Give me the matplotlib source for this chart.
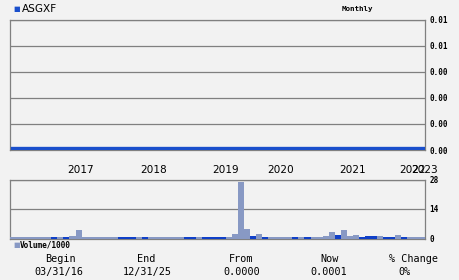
import numpy as np
import matplotlib.pyplot as plt
from matplotlib.ticker import FormatStrFormatter

# chart data ---------------------------------------------------------------
symbol = 'ASGXF'
period = 'Monthly'
# monthly close (one per bar slot)
prices = [0.0001, 0.0001, 0.0001, 0.0001, 0.0001, 0.0001, 0.0001, 0.0001, 0.0001, 0.0001,
          0.0001, 0.0001, 0.0001, 0.0001, 0.0001, 0.0001, 0.0001, 0.0001, 0.0001, 0.0001,
          0.0001, 0.0001, 0.0001, 0.0001, 0.0001, 0.0001, 0.0001, 0.0001, 0.0001, 0.0001,
          0.0001, 0.0001, 0.0001, 0.0001, 0.0001, 0.0001, 0.0001, 0.0001, 0.0001, 0.0001,
          0.0001, 0.0001, 0.0001, 0.0001, 0.0001, 0.0001, 0.0001, 0.0001, 0.0001, 0.0001,
          0.0001, 0.0001, 0.0001, 0.0001, 0.0001, 0.0001, 0.0001, 0.0001, 0.0001, 0.0001,
          0.0001, 0.0001, 0.0001, 0.0001, 0.0001, 0.0001, 0.0001, 0.0001, 0.0001]
# volume / 1000
volume = [0.6, 0.6, 0.6, 0.5, 0.5, 0.6, 0.6, 0.6, 0.6, 0.6,
          1.1, 4.0, 0.6, 0.6, 0.6, 0.6, 0.6, 0.6, 0.6, 0.6,
          0.6, 0.6, 0.6, 0.6, 0.6, 0.6, 0.6, 0.6, 0.6, 0.6,
          0.6, 0.6, 0.6, 0.6, 0.6, 0.6, 0.7, 2.0, 27.0, 4.4,
          1.0, 2.0, 0.6, 0.6, 0.5, 0.6, 0.5, 0.6, 0.6, 0.6,
          0.6, 0.6, 1.0, 3.2, 1.6, 4.1, 1.3, 1.6, 0.6, 1.0,
          1.0, 1.0, 0.6, 0.6, 1.6, 0.6, 0.5, 0.5, 0.5]
# 1 = down month (dark bar), 0 = up month (light bar)
down = [0, 0, 0, 0, 0, 0, 0, 1, 0, 1,
        0, 0, 0, 0, 0, 0, 0, 0, 1, 1,
        1, 0, 1, 0, 0, 0, 0, 0, 0, 1,
        1, 0, 1, 1, 1, 1, 0, 0, 0, 0,
        1, 0, 1, 0, 0, 0, 0, 1, 0, 1,
        0, 0, 0, 0, 1, 0, 0, 0, 1, 1,
        1, 0, 1, 1, 0, 1, 0, 0, 0]
year_labels = ['2017', '2018', '2019', '2020', '2021', '2022', '2023']
year_pos = [11.9, 23.9, 35.9, 45.0, 57.0, 67.0, 69.0]
price_ticks = [0.0, 0.0015, 0.003, 0.0045, 0.006, 0.0075]
vol_ticks = [0, 14, 28]
footer_heads = ['Begin', 'End', 'From', 'Now', '% Change']
footer_vals = ['03/31/16', '12/31/25', '0.0000', '0.0001', '0%']

bg = '#f2f2f2'
frame = '#808080'
line_blue = '#1a4fcc'
bar_light = '#8899c4'
bar_dark = '#1040c8'

W, H = 460, 280
fig = plt.figure(figsize=(W/100, H/100), dpi=100)
fig.patch.set_facecolor(bg)

x = np.arange(len(prices)) + 0.5
xmin, xmax = 0.13, 68.3

# price panel --------------------------------------------------------------
ax = fig.add_axes([10/W, 1-150/H, 415/W, 130.5/H])
ax.set_facecolor(bg)
ax.plot(x, prices, color=line_blue, lw=2.4, solid_capstyle='projecting', zorder=3)
ax.set_xlim(xmin, xmax)
ax.set_ylim(0, 0.0075)
ax.set_yticks(price_ticks)
ax.yaxis.set_major_formatter(FormatStrFormatter('%.2f'))
ax.yaxis.tick_right()
ax.tick_params(axis='y', length=0, pad=3, labelsize=5.5)
for lab in ax.get_yticklabels():
    lab.set_family('DejaVu Sans Mono')
    lab.set_fontweight('bold')
ax.set_xticks([])
ax.grid(axis='y', color=frame, lw=0.9)
for s in ax.spines.values():
    s.set_color(frame)
    s.set_linewidth(0.9)

# volume panel -------------------------------------------------------------
vax = fig.add_axes([10/W, 1-238.5/H, 415/W, 59/H])
vax.set_facecolor(bg)
cols = [bar_dark if d else bar_light for d in down]
vax.bar(x, volume, width=1.0, color=cols, zorder=3)
vax.set_xlim(xmin, xmax)
vax.set_ylim(0, 28)
vax.set_yticks(vol_ticks)
vax.yaxis.tick_right()
vax.tick_params(axis='y', length=0, pad=3, labelsize=5.5)
for lab in vax.get_yticklabels():
    lab.set_family('DejaVu Sans Mono')
    lab.set_fontweight('bold')
vax.xaxis.tick_top()
vax.set_xticks(year_pos)
vax.set_xticklabels(year_labels, fontsize=7.6)
vax.tick_params(axis='x', length=0, pad=3)
vax.grid(axis='y', color=frame, lw=0.9)
for s in vax.spines.values():
    s.set_color(frame)
    s.set_linewidth(0.9)

# legends / headers --------------------------------------------------------
fig.text(13/W, 1-9/H, '\u25a0', color=line_blue, fontsize=5, va='center', ha='left')
fig.text(22/W, 1-9/H, symbol, fontsize=7.6, va='center', ha='left')
fig.text(357/W, 1-9/H, period, fontsize=5.4, family='DejaVu Sans Mono',
         fontweight='bold', va='center', ha='center')
fig.text(13/W, 1-244.5/H, '\u25a0', color=bar_light, fontsize=5, va='center', ha='left')
fig.text(20/W, 1-244.5/H, 'Volume/1000', fontsize=5.6, family='DejaVu Sans Mono',
         fontweight='bold', va='center', ha='left')

# footer -------------------------------------------------------------------
head_x = [60, 146, 241, 330, 414]
val_x = [59, 147, 242, 329, 405]
for hx, vx, h, v in zip(head_x, val_x, footer_heads, footer_vals):
    fig.text(hx/W, 1-259/H, h, fontsize=7.3, family='DejaVu Sans Mono', va='center', ha='center')
    fig.text(vx/W, 1-272/H, v, fontsize=7.3, family='DejaVu Sans Mono', va='center', ha='center')

fig.savefig('out.png', dpi=100, facecolor=bg)
